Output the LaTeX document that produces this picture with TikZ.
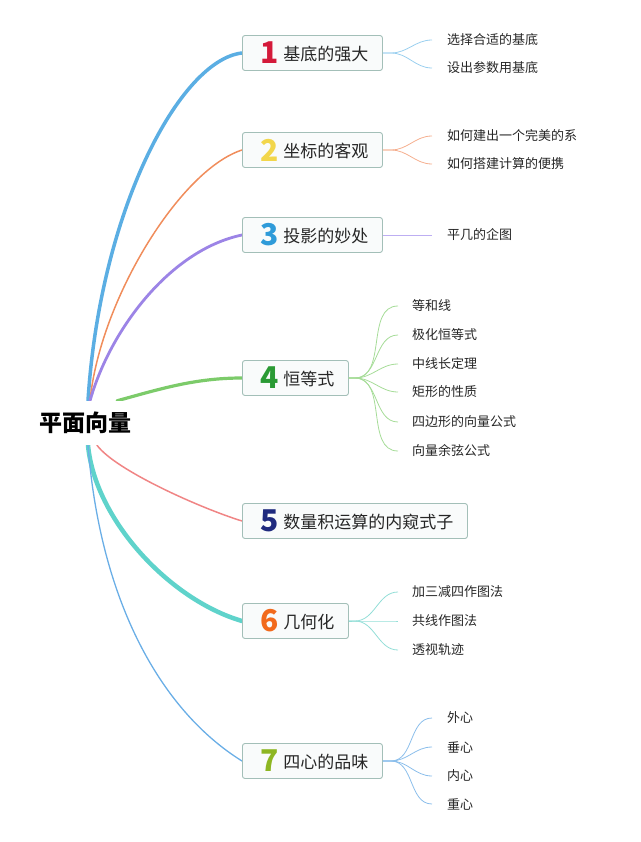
\documentclass[tikz,border=0pt]{standalone}
\usepackage{fontspec}
\setmainfont{Noto Sans CJK SC}
\usetikzlibrary{positioning}
\pgfdeclarelayer{back}
\pgfsetlayers{back,main}

\definecolor{cone}{HTML}{5BAEE3}
\definecolor{ctwo}{HTML}{F08D5C}
\definecolor{cthree}{HTML}{9C84E6}
\definecolor{cfour}{HTML}{7CCB6A}
\definecolor{cfive}{HTML}{F08585}
\definecolor{csix}{HTML}{5FD3CB}
\definecolor{cseven}{HTML}{6AAEE6}
\definecolor{sone}{HTML}{9ACFEF}
\definecolor{stwo}{HTML}{F5AE8E}
\definecolor{sthree}{HTML}{BDAEF2}
\definecolor{sfour}{HTML}{A6DC98}
\definecolor{ssix}{HTML}{93DED7}
\definecolor{sseven}{HTML}{8BBEEB}
\definecolor{done}{HTML}{D41A3A}
\definecolor{dtwo}{HTML}{F2D64B}
\definecolor{dthree}{HTML}{2F9BD9}
\definecolor{dfour}{HTML}{2A9A34}
\definecolor{dfive}{HTML}{1F2A7E}
\definecolor{dsix}{HTML}{F26A1C}
\definecolor{dseven}{HTML}{8DB622}
\definecolor{boxline}{HTML}{A3BFB8}
\definecolor{boxfill}{HTML}{F9FBFB}
\definecolor{txt}{HTML}{262626}

\tikzset{
  topic/.style={draw=boxline, fill=boxfill, rounded corners=2.5pt, line width=0.9pt,
    minimum height=35pt, inner xsep=14pt, inner ysep=0pt, anchor=west,
    text=txt, font=\fontsize{17}{17}\selectfont},
  leaf/.style={inner sep=0pt, anchor=west, text=txt, font=\fontsize{13}{13}\selectfont},
  limb/.style={line width=#1, line cap=round},
  twig/.style={line width=0.8pt},
}
\newcommand{\bignum}[2]{\hspace{4pt}\makebox[18pt][c]{\raisebox{-3.5pt}{\fontsize{30}{30}\selectfont\bfseries\color{#1}#2}}\hspace{5pt}}

\begin{document}
\begin{tikzpicture}[x=1pt, y=-1pt]
    \useasboundingbox (0,0) rectangle (640,842);

    % Root
    \node[fill=white, inner xsep=3pt, minimum height=44pt, text=black,
      font=\fontsize{23}{23}\selectfont\bfseries] (root) at (85,423) {平面向量};

    % Topics
    \node[topic] (t1) at (242,53) {\bignum{done}{1}基底的强大};
    \node[topic] (t2) at (242,150) {\bignum{dtwo}{2}坐标的客观};
    \node[topic] (t3) at (242,235) {\bignum{dthree}{3}投影的妙处};
    \node[topic] (t4) at (242,378) {\bignum{dfour}{4}恒等式};
    \node[topic] (t5) at (242,521) {\bignum{dfive}{5}数量积运算的内窥式子};
    \node[topic] (t6) at (242,621) {\bignum{dsix}{6}几何化};
    \node[topic] (t7) at (242,761) {\bignum{dseven}{7}四心的品味};

    % Leaves
    \node[leaf] (l11) at (447,40) {选择合适的基底};
    \node[leaf] (l12) at (447,68) {设出参数用基底};
    \node[leaf] (l21) at (447,136) {如何建出一个完美的系};
    \node[leaf] (l22) at (447,164) {如何搭建计算的便携};
    \node[leaf] (l31) at (447,235) {平几的企图};
    \node[leaf] (l41) at (412,306) {等和线};
    \node[leaf] (l42) at (412,335) {极化恒等式};
    \node[leaf] (l43) at (412,364) {中线长定理};
    \node[leaf] (l44) at (412,392) {矩形的性质};
    \node[leaf] (l45) at (412,422) {四边形的向量公式};
    \node[leaf] (l46) at (412,451) {向量余弦公式};
    \node[leaf] (l61) at (412,592) {加三减四作图法};
    \node[leaf] (l62) at (412,621) {共线作图法};
    \node[leaf] (l63) at (412,650) {透视轨迹};
    \node[leaf] (l71) at (447,718) {外心};
    \node[leaf] (l72) at (447,747) {垂心};
    \node[leaf] (l73) at (447,776) {内心};
    \node[leaf] (l74) at (447,804) {重心};

    % Main limbs, behind the root
    \begin{pgfonlayer}{back}
    \draw[limb=3.5pt, cone] ([xshift=3pt]root.north) .. controls (100,210) and (180,60) .. (t1.west);
    \draw[limb=1.5pt, ctwo] ([xshift=5pt]root.north) .. controls (100,300) and (180,170) .. (t2.west);
    \draw[limb=2.8pt, cthree] ([xshift=5pt]root.north) .. controls (110,330) and (170,250) .. (t3.west);
    \draw[limb=3.2pt, cfour] ([xshift=32pt]root.north) .. controls (160,389) and (195,378) .. (t4.west);
    \draw[limb=1.5pt, cfive] ([xshift=12pt]root.south) .. controls (115,470) and (200,508) .. (t5.west);
    \draw[limb=4.5pt, csix] ([xshift=3pt]root.south) .. controls (95,520) and (170,600) .. (t6.west);
    \draw[limb=1.3pt, cseven] ([xshift=3pt]root.south) .. controls (100,600) and (160,710) .. (t7.west);
    \end{pgfonlayer}

    % Twigs
    \draw[twig, sone] (t1.east) -- ++(8pt,0) to[out=0, in=180] ([xshift=-15pt]l11.west);
    \draw[twig, sone] (t1.east) -- ++(8pt,0) to[out=0, in=180] ([xshift=-15pt]l12.west);
    \draw[twig, stwo] (t2.east) -- ++(8pt,0) to[out=0, in=180] ([xshift=-15pt]l21.west);
    \draw[twig, stwo] (t2.east) -- ++(8pt,0) to[out=0, in=180] ([xshift=-15pt]l22.west);
    \draw[twig, sthree] (t3.east) -- ([xshift=-15pt]l31.west);
    \draw[twig, sfour] (t4.east) -- ++(6pt,0) to[out=0, in=180] ([xshift=-14pt]l41.west);
    \draw[twig, sfour] (t4.east) -- ++(6pt,0) to[out=0, in=180] ([xshift=-14pt]l42.west);
    \draw[twig, sfour] (t4.east) -- ++(6pt,0) to[out=0, in=180] ([xshift=-14pt]l43.west);
    \draw[twig, sfour] (t4.east) -- ++(6pt,0) to[out=0, in=180] ([xshift=-14pt]l44.west);
    \draw[twig, sfour] (t4.east) -- ++(6pt,0) to[out=0, in=180] ([xshift=-14pt]l45.west);
    \draw[twig, sfour] (t4.east) -- ++(6pt,0) to[out=0, in=180] ([xshift=-14pt]l46.west);
    \draw[twig, ssix] (t6.east) -- ++(6pt,0) to[out=0, in=180] ([xshift=-14pt]l61.west);
    \draw[twig, ssix] (t6.east) -- ++(6pt,0) to[out=0, in=180] ([xshift=-14pt]l62.west);
    \draw[twig, ssix] (t6.east) -- ++(6pt,0) to[out=0, in=180] ([xshift=-14pt]l63.west);
    \draw[twig, sseven] (t7.east) -- ++(8pt,0) to[out=0, in=180] ([xshift=-15pt]l71.west);
    \draw[twig, sseven] (t7.east) -- ++(8pt,0) to[out=0, in=180] ([xshift=-15pt]l72.west);
    \draw[twig, sseven] (t7.east) -- ++(8pt,0) to[out=0, in=180] ([xshift=-15pt]l73.west);
    \draw[twig, sseven] (t7.east) -- ++(8pt,0) to[out=0, in=180] ([xshift=-15pt]l74.west);
\end{tikzpicture}
\end{document}
